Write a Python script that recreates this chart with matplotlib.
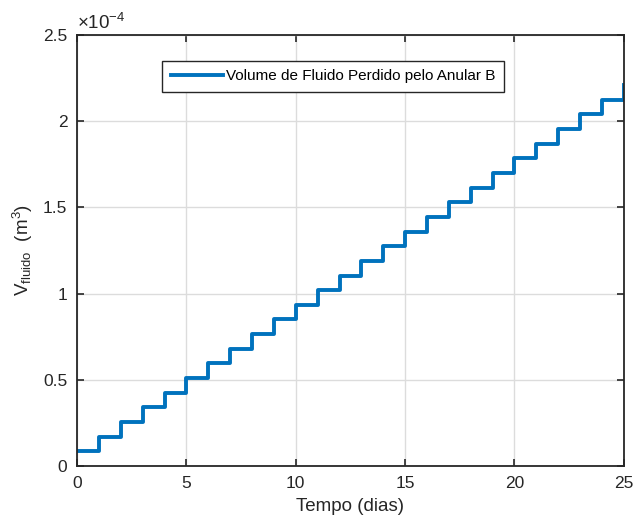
import matplotlib.pyplot as plt
import numpy as np

plt.rcParams['font.family'] = ['Liberation Sans', 'DejaVu Sans']
plt.rcParams['mathtext.fontset'] = 'custom'
plt.rcParams['mathtext.rm'] = 'Liberation Sans'
plt.rcParams['mathtext.it'] = 'Liberation Sans'

# tempo em dias, volume em 1e-4 m^3
dias = list(range(0, 26))
volume = [0.085, 0.17, 0.255, 0.34, 0.425, 0.51, 0.595, 0.68, 0.765, 0.85,
          0.935, 1.02, 1.105, 1.19, 1.275, 1.36, 1.445, 1.53, 1.615, 1.70,
          1.785, 1.87, 1.955, 2.04, 2.125, 2.21]

fig = plt.figure(figsize=(6.34, 5.18), dpi=100)
ax = fig.add_axes([0.1215, 0.1004, 0.8625, 0.832])

ax.plot(dias, np.array(volume), drawstyle='steps-post', color='#0072BD',
        linewidth=2.8, label='Volume de Fluido Perdido pelo Anular B')

ax.set_xlim(0, 25)
ax.set_ylim(0, 2.5)
ax.set_xticks([0, 5, 10, 15, 20, 25])
ax.set_yticks([0, 0.5, 1, 1.5, 2, 2.5])
ax.set_yticklabels(['0', '0.5', '1', '1.5', '2', '2.5'])
ax.grid(True, color='#dcdcdc', linewidth=1)
ax.set_axisbelow(True)
ax.tick_params(direction='in', top=True, right=True, length=5, width=1.2,
               labelsize=12.5, colors='#262626', pad=7)
for s in ax.spines.values():
    s.set_linewidth(1.3)
    s.set_color('#262626')

ax.set_xlabel('Tempo (dias)', fontsize=13.5, color='#262626', labelpad=5.5)
ax.set_ylabel(r'V$_{\mathrm{fluido}}$  (m$^3$)', fontsize=13.5, color='#262626', labelpad=6)
ax.text(0.0, 1.005, r'$\times10^{-4}$', transform=ax.transAxes, fontsize=13.5,
        color='#262626', va='bottom', ha='left')

leg = ax.legend(loc='upper left', bbox_to_anchor=(0.156, 0.94), fontsize=11,
                fancybox=False, framealpha=1, edgecolor='#262626',
                handlelength=3.4, borderpad=0.55, handletextpad=0.2,
                borderaxespad=0)
leg.get_frame().set_linewidth(1)

plt.savefig('out.png', dpi=100)
